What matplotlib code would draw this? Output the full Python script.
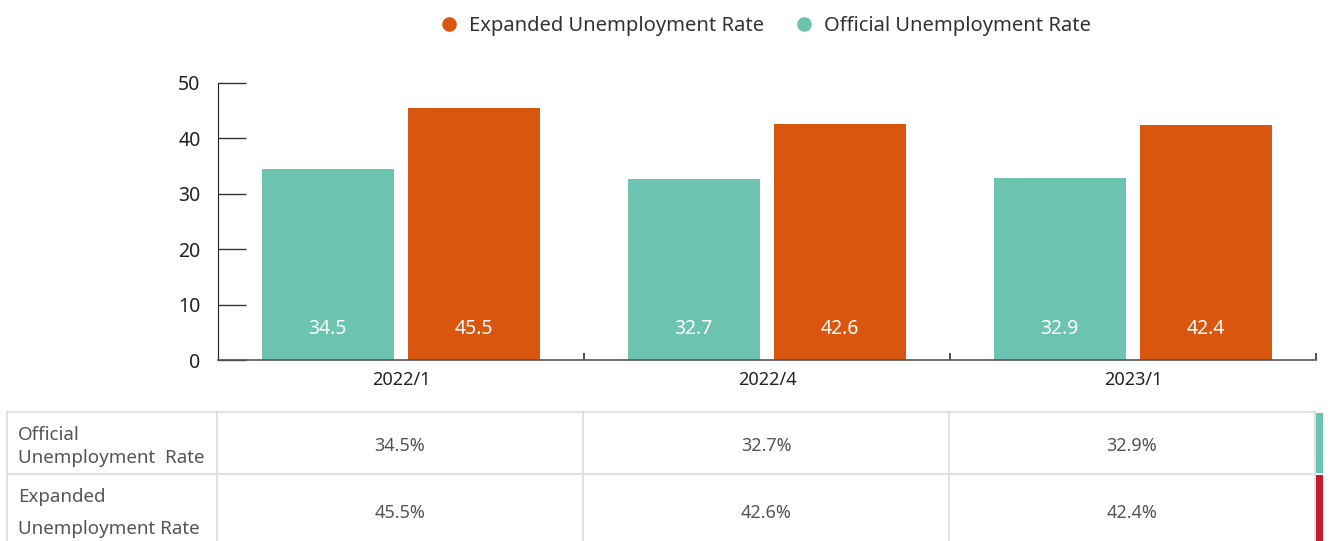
import matplotlib
matplotlib.use("Agg")
import matplotlib.pyplot as plt
from matplotlib.lines import Line2D
from matplotlib.patches import Rectangle

plt.rcParams['font.family'] = ['Noto Sans', 'DejaVu Sans']

categories = ["2022/1", "2022/4", "2023/1"]
official = [34.5, 32.7, 32.9]
expanded = [45.5, 42.6, 42.4]
yticks = [0, 10, 20, 30, 40, 50]
series_names = ["Official Unemployment Rate", "Expanded Unemployment Rate"]
row_labels = ["Official\nUnemployment  Rate", "Expanded\nUnemployment Rate"]

TEAL = "#6cc3b0"
ORANGE = "#d9560e"
RED = "#c8192a"

W, H = 1330, 541
fig = plt.figure(figsize=(W / 100, H / 100), dpi=100)

ax = fig.add_axes([218 / W, 1 - 360 / H, (1316 - 218) / W, (360 - 83) / H])
x = list(range(len(categories)))
bw = 0.36
off = 0.2
b1 = ax.bar([i - off for i in x], official, width=bw, color=TEAL, zorder=2)
b2 = ax.bar([i + off for i in x], expanded, width=bw, color=ORANGE, zorder=2)
for bars, vals in ((b1, official), (b2, expanded)):
    for r, v in zip(bars, vals):
        ax.annotate(f"{v}", (r.get_x() + r.get_width() / 2, 0), xytext=(0, 22),
                    textcoords="offset points", ha="center", va="center",
                    color="white", fontsize=14)

ax.set_xlim(-0.5, len(categories) - 0.5)
ax.set_ylim(0, 50)
ax.set_yticks(yticks)
ax.tick_params(axis="y", direction="in", length=20, width=1, color="#333333",
               labelsize=14, labelcolor="#222222", pad=12.5)
ax.set_xticks([i + 0.5 for i in x])
ax.set_xticklabels([])
ax.tick_params(axis="x", which="major", direction="in", length=5, width=1.2, color="#333333")
ax.set_xticks(x, minor=True)
ax.set_xticklabels(categories, minor=True, fontsize=13, fontweight="semibold", color="#222222")
ax.tick_params(axis="x", which="minor", length=0, pad=8)
for s in ("top", "right"):
    ax.spines[s].set_visible(False)
ax.spines["left"].set_color("#222222")
ax.spines["bottom"].set_color("#555555")
ax.spines["bottom"].set_linewidth(1.2)

handles = [Line2D([], [], marker="o", linestyle="none", markersize=9.5, color=ORANGE),
           Line2D([], [], marker="o", linestyle="none", markersize=9.5, color=TEAL)]
fig.legend(handles, [series_names[1], series_names[0]], loc="center",
           bbox_to_anchor=(760 / W, 1 - 26 / H), ncol=2, frameon=False,
           fontsize=14.5, handletextpad=0.0, columnspacing=1.0,
           labelcolor="#333333")

# table overlay
tx = fig.add_axes([0, 0, 1, 1])
tx.set_xlim(0, W)
tx.set_ylim(H, 0)
tx.axis("off")
grid = "#dcdcdc"
cols = [7, 217, 583, 949, 1315]
rows = [412, 474, 545]
for yv in rows[:2]:
    tx.plot([cols[0], cols[-1]], [yv, yv], color=grid, lw=1.2)
for xv in cols:
    tx.plot([xv, xv], [rows[0], rows[-1]], color=grid, lw=1.2)
tx.add_patch(Rectangle((1316, 413), 7, 60, color=TEAL, lw=0))
tx.add_patch(Rectangle((1316, 475), 7, 70, color=RED, lw=0))

label_line_y = [[435, 458], [497, 529]]
for lab, ys in zip(row_labels, label_line_y):
    for line, yv in zip(lab.split("\n"), ys):
        tx.text(18, yv, line, ha="left", va="center", fontsize=13.5, color="#555555")
row_vals = [official, expanded]
row_y = [446, 513]
for r, vals in enumerate(row_vals):
    for c, v in enumerate(vals):
        tx.text((cols[c + 1] + cols[c + 2]) / 2, row_y[r], f"{v}%", ha="center",
                va="center", fontsize=13, color="#555555")

fig.savefig("out.png", dpi=100)
